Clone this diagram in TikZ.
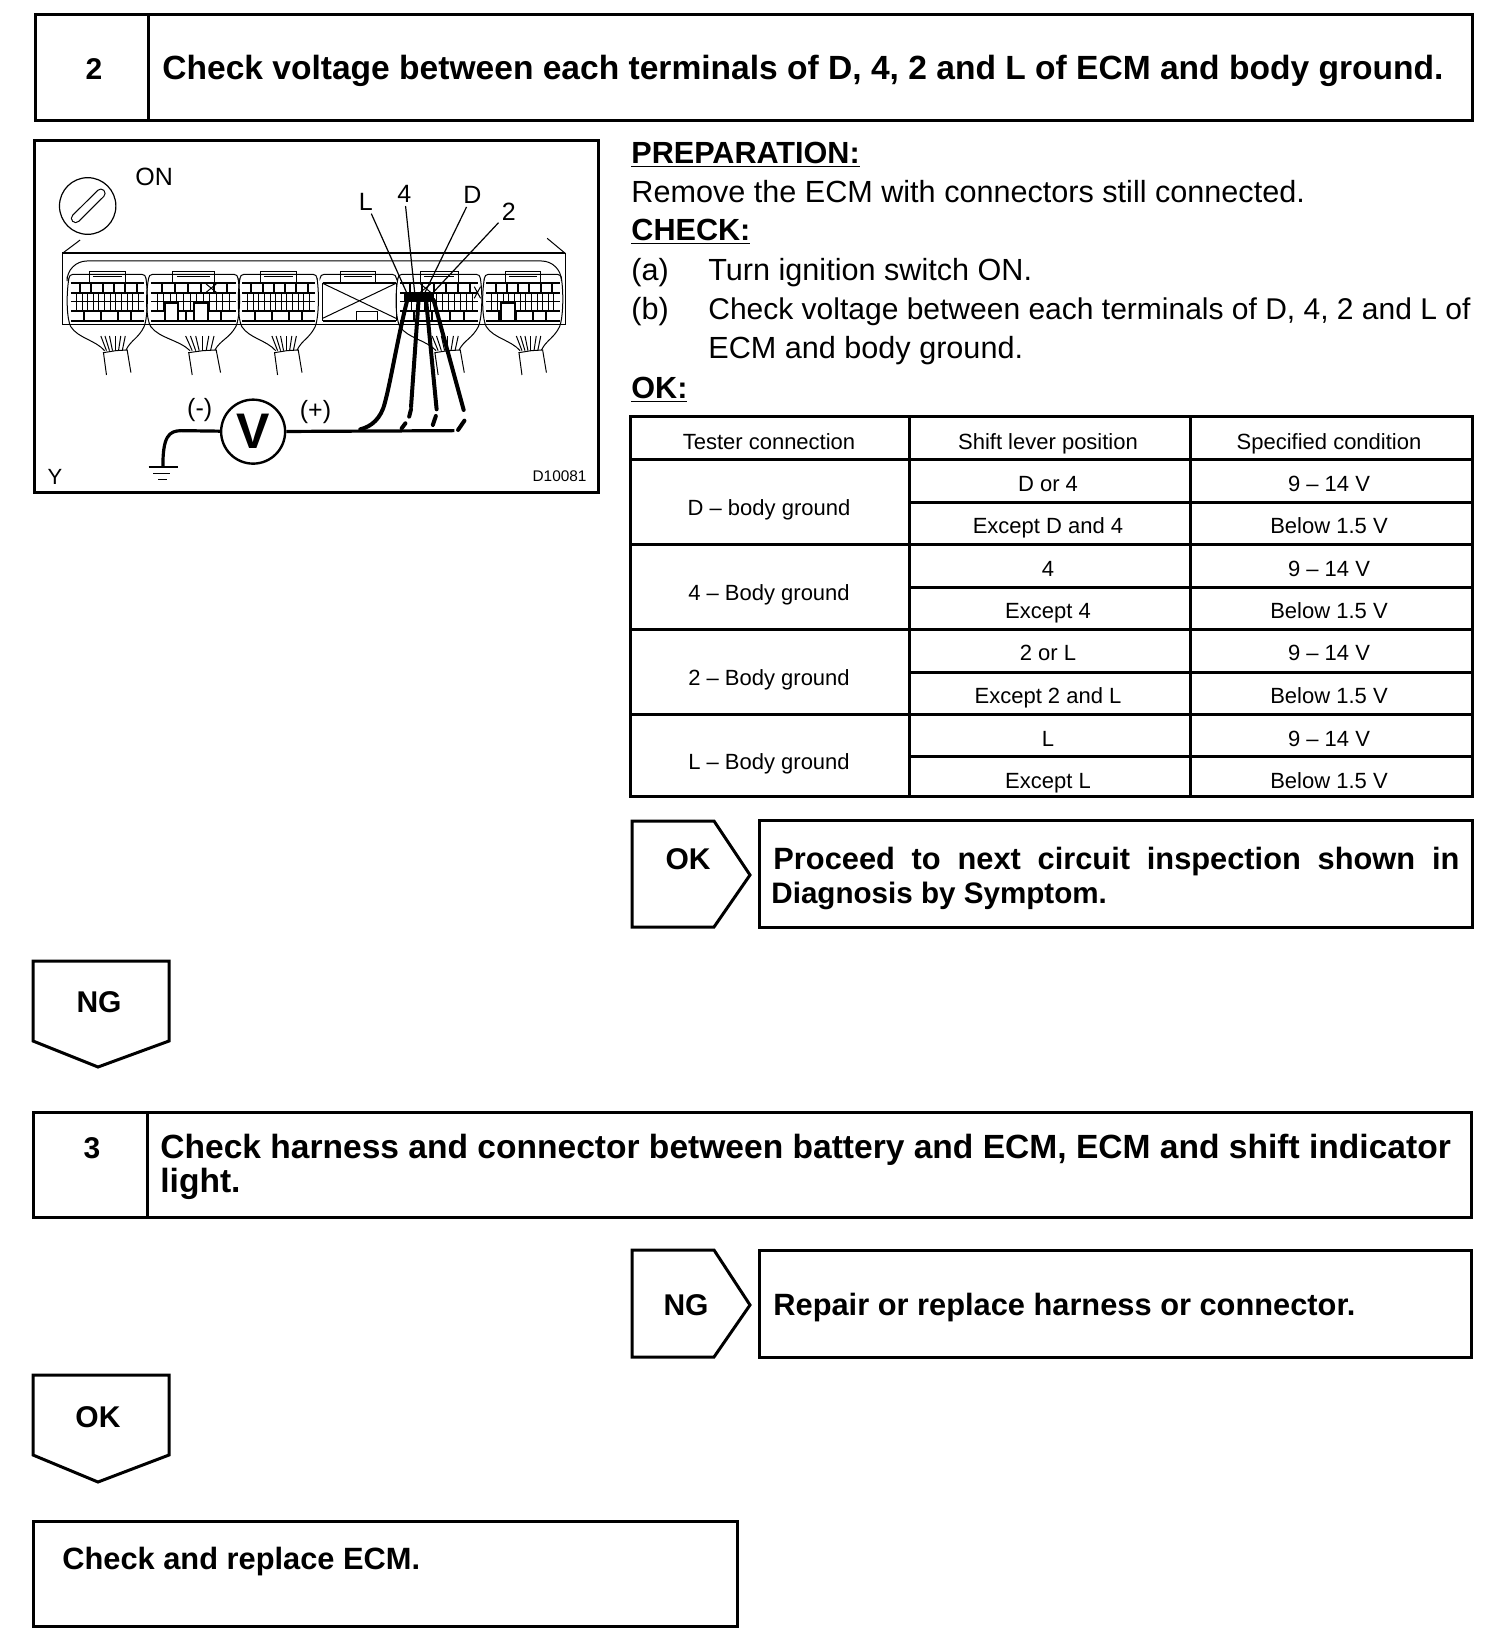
\documentclass[tikz,border=0pt]{standalone}
\usepackage{fontspec}
\setmainfont{Liberation Sans}
\usetikzlibrary{positioning}

\tikzset{
    box/.style={draw=black, line width=1.5pt, line join=miter},
    hair/.style={draw=black, line width=0.5pt},
    gridline/.style={draw=black, line width=1pt},
    lead/.style={draw=black, line width=0.6pt},
    wire/.style={draw=black, line width=1.6pt},
    probe/.style={draw=black, line width=2pt, line cap=round},
    headtxt/.style={anchor=base west, inner sep=0pt, font=\fontsize{16.78}{19}\selectfont\bfseries},
    numtxt/.style={anchor=base, inner sep=0pt, font=\fontsize{15}{18}\selectfont\bfseries},
    flagtxt/.style={anchor=base west, inner sep=0pt, font=\fontsize{15.4}{18}\selectfont\bfseries},
    bodytxt/.style={anchor=base west, inner sep=0pt, font=\fontsize{15.3}{18}\selectfont},
    boldtxt/.style={anchor=base west, inner sep=0pt, font=\fontsize{15.3}{18}\selectfont\bfseries},
    celltxt/.style={anchor=base, inner sep=0pt, font=\fontsize{11}{13}\selectfont},
    figtxt/.style={inner sep=1.5pt, font=\fontsize{12.5}{15}\selectfont},
}

% Connector top: left edge, width factor
\newcommand{\ecmhead}[2]{
    \begin{scope}[shift={(#1,0)}, xscale=#2]
        \draw[hair, rounded corners=2pt] (0,445) -- (0,433) -- (205,433) -- (205,445);
        \draw[hair] (55,455) -- (55,426) -- (150,426) -- (150,455);
        \draw[hair] (65,440) -- (140,440);
    \end{scope}
}
% Whole connector with its terminals and cable
\newcommand{\ecmplug}[2]{
    \ecmhead{#1}{#2}
    \begin{scope}[shift={(#1,0)}, xscale=#2]
        % Terminal rows
        \foreach \yy in {458,490,542,572}
            \draw[gridline] (5,\yy) -- (200,\yy);
        \draw[hair] (5,515) -- (200,515);
        \foreach \xx in {30,60,90,120,150,180}
            \draw[gridline] (\xx,458) -- (\xx,490);
        \foreach \xx in {20,35,...,190}
            \draw[hair] (\xx,490) -- (\xx,542);
        \foreach \xx in {40,85,130,165}
            \draw[gridline] (\xx,542) -- (\xx,572);
        % Housing and cable
        \draw[hair] (0,445) .. controls (-8,500) and (-5,570) .. (5,590)
            .. controls (25,625) and (70,630) .. (95,662);
        \draw[hair] (205,445) .. controls (212,500) and (208,570) .. (200,590)
            .. controls (185,625) and (165,630) .. (152,660);
        \draw[hair] (100,735) -- (92,668) -- (125,662) -- (155,660) -- (165,728);
        \foreach \xa/\xb in {100/85,108/96,116/108,124/124,132/138,142/150}
            \draw[hair] (\xa,662) -- (\xb,618);
    \end{scope}
}

\begin{document}
\begin{tikzpicture}[x=0.5pt, y=-0.5pt]
    \useasboundingbox (0,0) rectangle (1504,1650);

    % Step 2 header
    \draw[box] (35,14) rectangle (1472,120);
    \draw[box] (148,14) -- (148,120);
    \node[numtxt] (numtwo) at (94,79) {2};
    \node[headtxt] (headtwo) at (162,79) {Check voltage between each terminals of D, 4, 2 and L of ECM and body ground.};

    % Wiring figure
    \draw[box] (34,140) rectangle (598,492);
    \begin{scope}[shift={(20,130)}, xscale=0.376, yscale=0.3333]
        % Ignition switch
        \draw[lead] (180,228) ellipse [x radius=75, y radius=85];
        \draw[draw=black, line width=0.6pt, line cap=round, double=white, double distance=3.6pt] (148,265) -- (215,190);
        \node[figtxt] (swon) at (357,142) {ON};
        % ECM body
        \draw[hair] (160,330) -- (113,370);
        \draw[hair] (1402,325) -- (1450,370);
        \draw[hair] (113,370) -- (113,585) -- (1450,585) -- (1450,370);
        \draw[gridline] (113,370) -- (1450,370);
        \draw[hair, rounded corners=10pt] (125,440) -- (125,393) -- (1440,393) -- (1440,440);
        % Connectors
        \ecmplug{130}{1}
        \ecmplug{342}{1.16}
        \ecmplug{585}{1}
        \ecmhead{798}{0.99}
        \ecmplug{1005}{1.07}
        \ecmplug{1235}{1}
        % Blanked cavities
        \draw[gridline, fill=white] (385,520) rectangle (420,572);
        \draw[gridline, fill=white] (462,520) rectangle (500,572);
        \draw[gridline, fill=white] (1280,520) rectangle (1316,572);
        \draw[hair] (495,462) -- (522,487) (522,462) -- (495,487);
        \draw[hair] (1065,462) -- (1092,487) (1092,462) -- (1065,487);
        \draw[hair] (1208,470) -- (1225,505) (1225,470) -- (1208,505);
        % Empty connector
        \draw[gridline] (805,458) -- (1000,458) (805,572) -- (1000,572);
        \draw[hair] (805,458) -- (805,572) (1000,458) -- (1000,572);
        \draw[hair] (805,460) -- (1000,565) (805,565) -- (1000,460);
        \draw[hair] (895,572) -- (895,545) -- (950,545) -- (950,572);
        % Terminals
        \fill[black] (1020,492) rectangle (1100,515);
        \coordinate (pinl) at (1035,505);
        \coordinate (pinf) at (1050,492);
        \coordinate (pind) at (1075,492);
        \coordinate (pint) at (1095,492);
        \node[figtxt] (lbll) at (920,215) {L};
        \node[figtxt] (lblf) at (1022,192) {4};
        \node[figtxt] (lbld) at (1203,195) {D};
        \node[figtxt] (lblt) at (1300,245) {2};
        \draw[lead] (lbll) -- (pinl);
        \draw[lead] (lblf) -- (pinf);
        \draw[lead] (lbld) -- (pind);
        \draw[lead] (lblt) -- (pint);
        % Voltmeter
        \node[circle, draw=black, line width=1.2pt, minimum size=32pt, inner sep=0pt, font=\fontsize{25}{25}\selectfont\bfseries] (volt) at (620,905) {V};
        \node[figtxt] (minus) at (478,840) {(-)};
        \node[figtxt] (plus) at (786,845) {(+)};
        \coordinate (wireend) at (1155,902);
        \coordinate (gnd) at (380,1010);
        \draw[wire] (volt) -- (wireend);
        \draw[wire] (volt) -- (430,902) .. controls (395,902) and (380,920) .. (gnd);
        \draw[gridline] (342,1010) -- (420,1010);
        \draw[hair] (355,1030) -- (400,1030);
        \draw[hair] (368,1050) -- (392,1050);
        % Probes
        \draw[probe] (1030,510) .. controls (1005,620) and (985,760) .. (970,820) .. controls (960,865) and (935,890) .. (905,898);
        \draw[probe] (1060,510) -- (1040,830);
        \draw[probe] (1040,838) -- (1035,860);
        \draw[probe] (1025,880) -- (1015,895);
        \draw[probe] (1080,510) -- (1108,838);
        \draw[probe] (1106,858) -- (1098,885);
        \draw[probe] (1100,510) -- (1180,840);
        \draw[probe] (1182,872) -- (1165,900);
        % Figure marks
        \node[figtxt, font=\fontsize{11}{13}\selectfont] (marky) at (93,1040) {Y};
        \node[figtxt, font=\fontsize{7.7}{9}\selectfont] (figno) at (1435,1040) {D10081};
    \end{scope}

    % Instructions
    \node[boldtxt] (prep) at (631,163) {\underline{PREPARATION:}};
    \node[bodytxt] (prepa) at (631,202) {Remove the ECM with connectors still connected.};
    \node[boldtxt] (chk) at (631,240) {\underline{CHECK:}};
    \node[bodytxt] (chka) at (631,280) {(a)};
    \node[bodytxt] (chkat) at (708,280) {Turn ignition switch ON.};
    \node[bodytxt] (chkb) at (631,319) {(b)};
    \node[bodytxt, font=\fontsize{15}{18}\selectfont] (chkbt) at (708,319) {Check voltage between each terminals of D, 4, 2 and L of};
    \node[bodytxt] (chkbu) at (708,358) {ECM and body ground.};
    \node[boldtxt] (okhd) at (631,398) {\underline{OK:}};

    % Table
    \draw[box] (630,416) rectangle (1472,796);
    \draw[box] (630,459) -- (1472,459);
    \foreach \yy in {544,629.5,714}
        \draw[box] (630,\yy) -- (1472,\yy);
    \foreach \yy in {502,587,672,756}
        \draw[box] (909,\yy) -- (1472,\yy);
    \draw[box] (909,416) -- (909,796);
    \draw[box] (1190,416) -- (1190,796);
    \node[celltxt] (hda) at (769,449) {Tester connection};
    \node[celltxt] (hdb) at (1048,449) {Shift lever position};
    \node[celltxt] (hdc) at (1329,449) {Specified condition};
    \foreach \yy/\txt [count=\i] in {515/D -- body ground, 600/4 -- Body ground, 685/2 -- Body ground, 769/L -- Body ground}
        \node[celltxt] (term\i) at (769,\yy) {\txt};
    \foreach \yy/\txt/\val [count=\i] in {491/D or 4/9 -- 14 V, 533/Except D and 4/Below 1.5 V, 576/4/9 -- 14 V, 618/Except 4/Below 1.5 V, 660/2 or L/9 -- 14 V, 703/Except 2 and L/Below 1.5 V, 746/L/9 -- 14 V, 788/Except L/Below 1.5 V} {
        \node[celltxt] (lever\i) at (1048,\yy) {\txt};
        \node[celltxt] (cond\i) at (1329,\yy) {\val};
    }

    % OK branch
    \draw[box] (632,821) -- (714,821) -- (750,875) -- (714,927) -- (632,927) -- cycle;
    \node[numtxt] (okflag) at (688,869) {OK};
    \draw[box] (759,820) rectangle (1472,927);
    \node[flagtxt] (oka) at (773,869) {\makebox[343pt][s]{Proceed to next circuit inspection shown in}};
    \node[flagtxt, font=\fontsize{14.8}{18}\selectfont\bfseries] (okb) at (771,903) {Diagnosis by Symptom.};

    % NG down to step 3
    \draw[box] (33,961) -- (169,961) -- (169,1041) -- (98,1067) -- (33,1041) -- cycle;
    \node[numtxt] (ngdown) at (99,1012) {NG};
    \draw[box] (33,1112) rectangle (1471,1217);
    \draw[box] (147,1112) -- (147,1217);
    \node[numtxt] (numthree) at (92,1158) {3};
    \node[headtxt] (headthree) at (160,1158) {Check harness and connector between battery and ECM, ECM and shift indicator};
    \node[headtxt] (headthreeb) at (160,1192) {light.};

    % NG branch
    \draw[box] (632,1250) -- (714,1250) -- (750,1305) -- (714,1357) -- (632,1357) -- cycle;
    \node[numtxt] (ngflag) at (686,1315) {NG};
    \draw[box] (759,1250) rectangle (1471,1357);
    \node[flagtxt] (nga) at (773,1315) {Repair or replace harness or connector.};

    % OK down to last box
    \draw[box] (33,1375) -- (169,1375) -- (169,1455) -- (98,1482) -- (33,1455) -- cycle;
    \node[numtxt] (okdown) at (98,1427) {OK};
    \draw[box] (33,1521) rectangle (737,1626);
    \node[flagtxt] (last) at (62,1569) {Check and replace ECM.};
\end{tikzpicture}
\end{document}
